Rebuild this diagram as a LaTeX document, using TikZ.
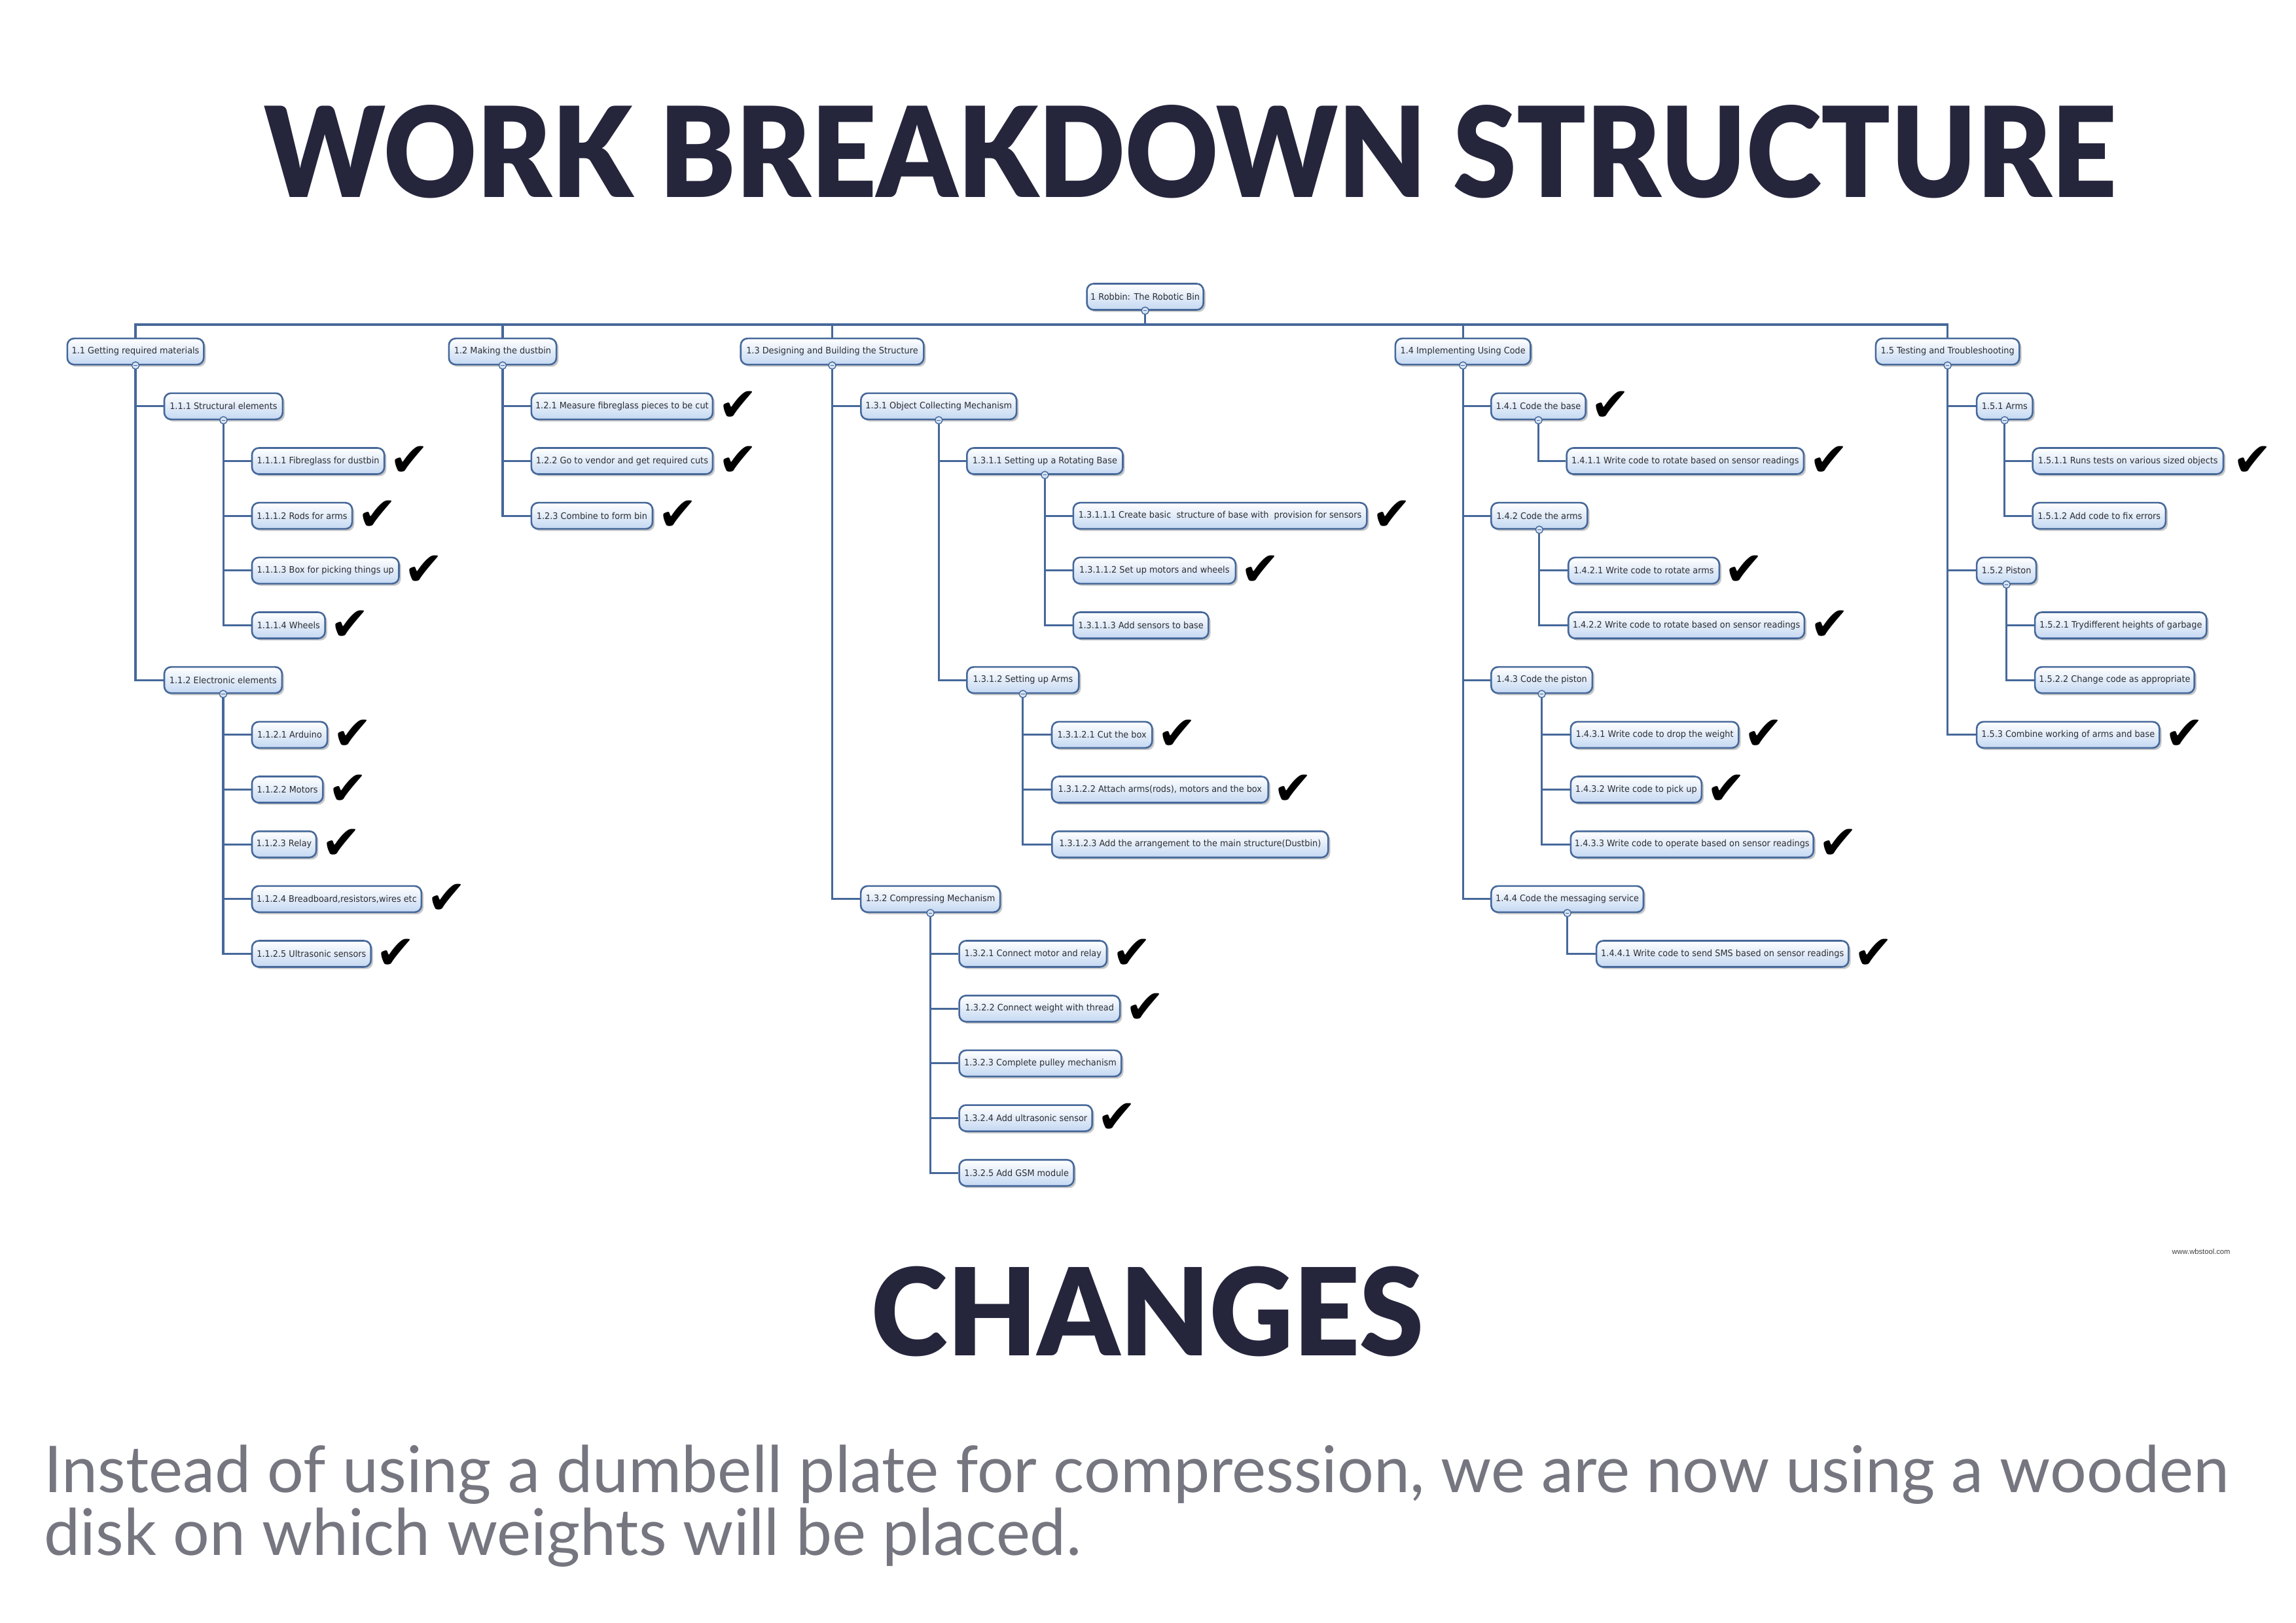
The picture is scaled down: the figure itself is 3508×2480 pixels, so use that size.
\documentclass[tikz,border=0pt]{standalone}
\usepackage{fontspec}
\usepackage{graphicx}
\usetikzlibrary{shadows}
\definecolor{wbline}{RGB}{70,104,154}
\definecolor{wbfill}{RGB}{196,216,242}
\definecolor{wbtext}{RGB}{45,45,50}
\definecolor{ttl}{RGB}{37,37,60}
\definecolor{bodygray}{RGB}{118,118,128}
\newfontfamily\boxfont{DejaVu Sans}[FakeStretch=0.94]
\newfontfamily\chkfont{DejaVu Sans}
\newfontfamily\bodyfont{Lato}
\newfontfamily\wmfont{Liberation Sans}
\IfFontExistsTF{Lato Black}{\newfontfamily\titlefont{Lato Black}\def\ttlwt{}}{\newfontfamily\titlefont{Lato}\def\ttlwt{\bfseries}}
\tikzset{
  wbbox/.style={draw=wbline, line width=0.65pt, rounded corners=2.6pt,
    top color=white, bottom color=wbfill, minimum height=10pt,
    inner xsep=1pt, inner ysep=0pt,
    font=\boxfont\fontsize{3.42pt}{4pt}\selectfont, text=wbtext,
    drop shadow={shadow xshift=0.8pt, shadow yshift=-0.8pt, opacity=0.3, fill=black!70}},
  wbchk/.style={font=\chkfont\fontsize{18pt}{19pt}\selectfont, inner sep=0pt, text=black},
  wbcirc/.style={circle, draw=wbline, fill=wbfill!70, line width=0.35pt,
    minimum size=2.8pt, inner sep=0pt,
    path picture={\draw[wbline, line width=0.3pt]
      ([xshift=-0.7pt]path picture bounding box.center) --
      ([xshift=0.7pt]path picture bounding box.center);}},
  wbconn/.style={draw=wbline, line width=0.8pt}
}
\newcommand{\wbn}[5]{\node[wbbox, anchor=west, minimum width={(#3-#2)*0.25pt}] (#1) at (#2,{453.5+83.67*#4}) {#5};}
\newcommand{\wbc}[2][1.5pt]{\node[wbchk, anchor=west] (#2c) at ([xshift=#1]#2.east) {✔};}
\newcommand{\wbl}[2]{\draw[wbconn] (#1.south) |- (#2.west);}
\newcommand{\wbo}[1]{\node[wbcirc] (#1o) at (#1.south) {};}
\begin{document}
\begin{tikzpicture}[x=0.25pt, y=-0.25pt]
\useasboundingbox (0,0) rectangle (3508,2480);
\fill[white] (0,0) rectangle (3508,2480);

% titles
\node[anchor=base west, inner sep=0pt, text=ttl] (title) at (402.7,302)
  {\resizebox{707.5pt}{35.25pt}{\titlefont\ttlwt WORK BREAKDOWN STRUCTURE}};
\node[anchor=base west, inner sep=0pt, text=ttl] (changes) at (1331,2071.6)
  {\resizebox{210.9pt}{34.1pt}{\titlefont\ttlwt CHANGES}};
\node[anchor=base west, inner sep=0pt, text=bodygray] (body1) at (67,2280)
  {\resizebox{834.5pt}{!}{\bodyfont\fontsize{25pt}{30pt}\selectfont Instead of using a dumbell plate for compression, we are now using a wooden}};
\node[anchor=base west, inner sep=0pt, text=bodygray] (body2) at (67,2376)
  {\resizebox{396pt}{!}{\bodyfont\fontsize{25pt}{30pt}\selectfont disk on which weights will be placed.}};
\node[inner sep=0pt, text=black!75, font=\wmfont\fontsize{2.8pt}{3pt}\selectfont] (wm) at (3363,1912.5) {www.wbstool.com};

% boxes
\wbn{root}{1659.3}{1837.3}{0}{1 Robbin: The Robotic Bin}
\wbn{n11}{101.5}{310}{1}{1.1 Getting required materials}
\wbn{n111}{249.7}{430.5}{2}{1.1.1 Structural elements}
\wbn{n1111}{383.7}{585.9}{3}{1.1.1.1 Fibreglass for dustbin}
\wbn{n1112}{383.7}{536.8}{4}{1.1.1.2 Rods for arms}
\wbn{n1113}{383.7}{608.2}{5}{1.1.1.3 Box for picking things up}
\wbn{n1114}{383.7}{495.3}{6}{1.1.1.4 Wheels}
\wbn{n112}{249.7}{429.6}{7}{1.1.2 Electronic elements}
\wbn{n1121}{383.7}{498.8}{8}{1.1.2.1 Arduino}
\wbn{n1122}{383.7}{492.1}{9}{1.1.2.2 Motors}
\wbn{n1123}{383.7}{481.9}{10}{1.1.2.3 Relay}
\wbn{n1124}{383.7}{642.6}{11}{1.1.2.4 Breadboard,resistors,wires etc}
\wbn{n1125}{383.7}{565.4}{12}{1.1.2.5 Ultrasonic sensors}
\wbn{n12}{684.5}{848.8}{1}{1.2 Making the dustbin}
\wbn{n121}{810.5}{1087.6}{2}{1.2.1 Measure fibreglass pieces to be cut}
\wbn{n122}{810.5}{1087.6}{3}{1.2.2 Go to vendor and get required cuts}
\wbn{n123}{810.5}{995.7}{4}{1.2.3 Combine to form bin}
\wbn{n13}{1130.4}{1410}{1}{1.3 Designing and Building the Structure}
\wbn{n131}{1314.1}{1551.8}{2}{1.3.1 Object Collecting Mechanism}
\wbn{n1311}{1476}{1714.2}{3}{1.3.1.1 Setting up a Rotating Base}
\wbn{n13111}{1638.5}{2087}{4}{1.3.1.1.1 Create basic~ structure of base with~ provision for sensors}
\wbn{n13112}{1638.5}{1886.5}{5}{1.3.1.1.2 Set up motors and wheels}
\wbn{n13113}{1638.5}{1845.1}{6}{1.3.1.1.3 Add sensors to base}
\wbn{n1312}{1476}{1647.1}{7}{1.3.1.2 Setting up Arms}
\wbn{n13121}{1605.7}{1759}{8}{1.3.1.2.1 Cut the box}
\wbn{n13122}{1605.7}{1936.4}{9}{1.3.1.2.2 Attach arms(rods), motors and the box}
\wbn{n13123}{1606}{2028}{10}{1.3.1.2.3 Add the arrangement to the main structure(Dustbin)}
\wbn{n132}{1313.8}{1526.8}{11}{1.3.2 Compressing Mechanism}
\wbn{n1321}{1464.3}{1689.7}{12}{1.3.2.1 Connect motor and relay}
\wbn{n1322}{1464.3}{1709.8}{13}{1.3.2.2 Connect weight with thread}
\wbn{n1323}{1464.3}{1712}{14}{1.3.2.3 Complete pulley mechanism}
\wbn{n1324}{1464.3}{1667.4}{15}{1.3.2.4 Add ultrasonic sensor}
\wbn{n1325}{1464.3}{1639.3}{16}{1.3.2.5 Add GSM module}
\wbn{n14}{2130.6}{2337.2}{1}{1.4 Implementing Using Code}
\wbn{n141}{2277}{2421.4}{2}{1.4.1 Code the base}
\wbn{n1411}{2392.3}{2754.6}{3}{1.4.1.1 Write code to rotate based on sensor readings}
\wbn{n142}{2277}{2424}{4}{1.4.2 Code the arms}
\wbn{n1421}{2394.9}{2625.5}{5}{1.4.2.1 Write code to rotate arms}
\wbn{n1422}{2394.9}{2755.6}{6}{1.4.2.2 Write code to rotate based on sensor readings}
\wbn{n143}{2277}{2431.6}{7}{1.4.3 Code the piston}
\wbn{n1431}{2398.5}{2655.1}{8}{1.4.3.1 Write code to drop the weight}
\wbn{n1432}{2398.5}{2598.5}{9}{1.4.3.2 Write code to pick up}
\wbn{n1433}{2398.5}{2769.4}{10}{1.4.3.3 Write code to operate based on sensor readings}
\wbn{n144}{2277}{2509.7}{11}{1.4.4 Code the messaging service}
\wbn{n1441}{2437.8}{2823}{12}{1.4.4.1 Write code to send SMS based on sensor readings}
\wbn{n15}{2864.6}{3084}{1}{1.5 Testing and Troubleshooting}
\wbn{n151}{3018.8}{3104.2}{2}{1.5.1 Arms}
\wbn{n1511}{3104.2}{3395.6}{3}{1.5.1.1 Runs tests on various sized objects}
\wbn{n1512}{3104.2}{3307.5}{4}{1.5.1.2 Add code to fix errors}
\wbn{n152}{3018.8}{3109.8}{5}{1.5.2 Piston}
\wbn{n1521}{3107.8}{3370}{6}{1.5.2.1 Trydifferent heights of garbage}
\wbn{n1522}{3107.8}{3351.4}{7}{1.5.2.2 Change code as appropriate}
\wbn{n153}{3018.8}{3298}{8}{1.5.3 Combine working of arms and base}

% top bar
\coordinate (bar) at (0,496);
\draw[wbconn] (root.south) -- (root.south |- bar);
\draw[wbconn] (n11.north) |- (bar -| n15.north) -- (n15.north);
\foreach \n in {n12,n13,n14} {\draw[wbconn] (\n.north) -- (\n.north |- bar);}

% connectors
\wbl{n11}{n111} \wbl{n11}{n112}
\wbl{n111}{n1111} \wbl{n111}{n1112} \wbl{n111}{n1113} \wbl{n111}{n1114}
\wbl{n112}{n1121} \wbl{n112}{n1122} \wbl{n112}{n1123} \wbl{n112}{n1124} \wbl{n112}{n1125}
\wbl{n12}{n121} \wbl{n12}{n122} \wbl{n12}{n123}
\wbl{n13}{n131} \wbl{n13}{n132}
\wbl{n131}{n1311} \wbl{n131}{n1312}
\wbl{n1311}{n13111} \wbl{n1311}{n13112} \wbl{n1311}{n13113}
\wbl{n1312}{n13121} \wbl{n1312}{n13122} \wbl{n1312}{n13123}
\wbl{n132}{n1321} \wbl{n132}{n1322} \wbl{n132}{n1323} \wbl{n132}{n1324} \wbl{n132}{n1325}
\wbl{n14}{n141} \wbl{n14}{n142} \wbl{n14}{n143} \wbl{n14}{n144}
\wbl{n141}{n1411}
\wbl{n142}{n1421} \wbl{n142}{n1422}
\wbl{n143}{n1431} \wbl{n143}{n1432} \wbl{n143}{n1433}
\wbl{n144}{n1441}
\wbl{n15}{n151} \wbl{n15}{n152} \wbl{n15}{n153}
\wbl{n151}{n1511} \wbl{n151}{n1512}
\wbl{n152}{n1521} \wbl{n152}{n1522}

% collapse circles
\foreach \n in {root,n11,n111,n112,n12,n13,n131,n1311,n1312,n132,n14,n141,n142,n143,n144,n15,n151,n152} {\wbo{\n}}

% check marks
\wbc{n1111} \wbc{n1112} \wbc{n1113} \wbc{n1114}
\wbc{n1121} \wbc{n1122} \wbc{n1123} \wbc{n1124} \wbc{n1125}
\wbc{n121} \wbc{n122} \wbc{n123}
\wbc{n13111} \wbc{n13112}
\wbc{n13121} \wbc{n13122}
\wbc{n1321} \wbc{n1322} \wbc{n1324}
\wbc{n141} \wbc{n1411} \wbc{n1421} \wbc{n1422}
\wbc{n1431} \wbc{n1432} \wbc{n1433} \wbc{n1441}
\wbc[3pt]{n1511} \wbc{n153}
\end{tikzpicture}
\end{document}
